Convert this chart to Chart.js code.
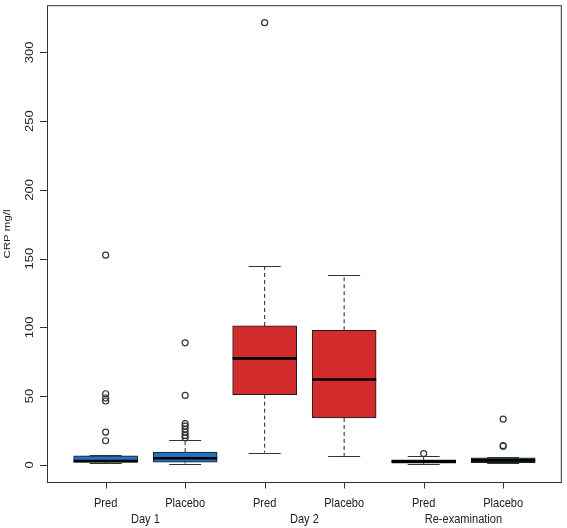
<!DOCTYPE html>
<html>
<head>
<meta charset="utf-8">
<script src="https://cdn.jsdelivr.net/npm/chart.js@4.4.1/dist/chart.umd.min.js"></script>
<style>
  html, body { margin: 0; padding: 0; background: #fff; }
  canvas { display: block; }
</style>
</head>
<body>
<canvas id="crpChart" width="567" height="528"></canvas>
<script>
// data (CRP mg/l)
const groups = ['Day 1', 'Day 2', 'Re-examination'];
const categories = ['Pred', 'Placebo', 'Pred', 'Placebo', 'Pred', 'Placebo'];
const lowerWhisker = [1.0, 0.9, 8.9, 6.5, 0.5, 1.2];
const q1 = [1.8, 1.9, 51.0, 34.1, 1.2, 1.5];
const median = [2.8, 4.8, 77.4, 62.0, 2.4, 3.2];
const q3 = [6.5, 9.2, 101.0, 97.9, 3.6, 5.1];
const upperWhisker = [7.0, 18.0, 144.7, 138.0, 6.5, 5.4];
const outliers = [
    [17.5, 23.8, 46.4, 48.6, 51.7, 152.5],
    [19.6, 21.4, 23.7, 26.0, 28.2, 30.0, 50.5, 88.7],
    [321.6],
    [],
    [8.2],
    [13.5, 13.9, 33.2]
];
const yTicks = [0, 50, 100, 150, 200, 250, 300];

const boxColors = ['#2371c4', '#2371c4', '#d12b2b', '#d12b2b', '#151515', '#2e6b33'];
const ink = '#222';

// text drawn a little narrow, like the original
function drawText(ctx, txt, x, y, size, rot) {
    ctx.save();
    ctx.translate(x, y);
    ctx.scale(0.85, 1);
    if (rot) ctx.rotate(-Math.PI / 2);
    ctx.font = size + 'px "Liberation Sans", Arial, sans-serif';
    ctx.fillStyle = ink;
    ctx.fillText(txt, 0, 0);
    ctx.restore();
}

const boxExtras = {
    id: 'boxExtras',
    afterDatasetDraw(chart, args) {
        if (args.index !== 0) return;
        const ctx = chart.ctx;
        const xs = chart.scales.x, ys = chart.scales.y;
        ctx.save();
        categories.forEach((c, i) => {
            const cx = xs.getPixelForValue(i + 1);
            const half = 32;
            // dashed whiskers
            ctx.strokeStyle = ink;
            ctx.lineWidth = 1;
            ctx.setLineDash([4, 3]);
            ctx.beginPath();
            ctx.moveTo(cx, ys.getPixelForValue(q3[i]));
            ctx.lineTo(cx, ys.getPixelForValue(upperWhisker[i]));
            ctx.moveTo(cx, ys.getPixelForValue(q1[i]));
            ctx.lineTo(cx, ys.getPixelForValue(lowerWhisker[i]));
            ctx.stroke();
            ctx.setLineDash([]);
            // caps
            ctx.strokeStyle = '#333';
            ctx.beginPath();
            [upperWhisker[i], lowerWhisker[i]].forEach(v => {
                const y = Math.round(ys.getPixelForValue(v)) + 0.5;
                ctx.moveTo(cx - half / 2, y);
                ctx.lineTo(cx + half / 2, y);
            });
            ctx.stroke();
            // median
            ctx.strokeStyle = '#000';
            ctx.lineWidth = 2.6;
            ctx.beginPath();
            const my = ys.getPixelForValue(median[i]);
            ctx.moveTo(cx - half, my);
            ctx.lineTo(cx + half, my);
            ctx.stroke();
        });
        ctx.restore();
    },
    afterDraw(chart) {
        const ctx = chart.ctx;
        const a = chart.chartArea;
        const xs = chart.scales.x, ys = chart.scales.y;
        ctx.save();
        // frame
        ctx.strokeStyle = '#333';
        ctx.lineWidth = 1;
        ctx.strokeRect(a.left + 0.5, a.top + 0.5, a.right - a.left - 1, a.bottom - a.top);
        // y axis
        ctx.beginPath();
        yTicks.forEach(t => {
            const y = Math.round(ys.getPixelForValue(t)) + 0.5;
            ctx.moveTo(a.left - 7, y);
            ctx.lineTo(a.left, y);
        });
        ctx.stroke();
        ctx.textAlign = 'center';
        ctx.textBaseline = 'middle';
        yTicks.forEach(t => {
            drawText(ctx, String(t), 30, ys.getPixelForValue(t), 13, true);
        });
        drawText(ctx, 'CRP mg/l', 7, 234, 11.5, true);
        // x axis
        ctx.beginPath();
        categories.forEach((c, i) => {
            const x = Math.round(xs.getPixelForValue(i + 1)) + 0.5;
            ctx.moveTo(x, a.bottom);
            ctx.lineTo(x, a.bottom + 6.5);
        });
        ctx.stroke();
        ctx.textBaseline = 'alphabetic';
        categories.forEach((c, i) => {
            drawText(ctx, c, xs.getPixelForValue(i + 1), 506.5, 13, false);
        });
        groups.forEach((g, j) => {
            drawText(ctx, g, xs.getPixelForValue(2 * j + 1.5), 523, 13, false);
        });
        ctx.restore();
    }
};

document.addEventListener('DOMContentLoaded', function() {
    const canvas = document.getElementById('crpChart');
    const ctx = canvas.getContext('2d');

    const outlierPoints = [];
    outliers.forEach((list, i) => {
        list.forEach(v => outlierPoints.push({ x: i + 1, y: v }));
    });

    new Chart(ctx, {
        type: 'bar',
        data: {
            datasets: [{
                type: 'bar',
                data: categories.map((c, i) => ({ x: i + 1, y: [q1[i], q3[i]] })),
                backgroundColor: boxColors,
                borderColor: '#1a1a1a',
                borderWidth: 1,
                borderSkipped: false,
                barThickness: 64
            }, {
                type: 'scatter',
                data: outlierPoints,
                pointRadius: 3,
                pointBorderWidth: 1.2,
                pointBorderColor: '#333',
                pointBackgroundColor: 'rgba(0,0,0,0)'
            }]
        },
        options: {
            responsive: false,
            devicePixelRatio: 1,
            animation: false,
            layout: { padding: { left: 47, top: 2, right: 2, bottom: 46 } },
            plugins: {
                legend: { display: false },
                tooltip: { enabled: false }
            },
            scales: {
                x: { type: 'linear', min: 0.2625, max: 6.7375, offset: false, display: false },
                y: { type: 'linear', min: -12.5, max: 334.3, display: false }
            }
        },
        plugins: [boxExtras]
    });
});
</script>
</body>
</html>
